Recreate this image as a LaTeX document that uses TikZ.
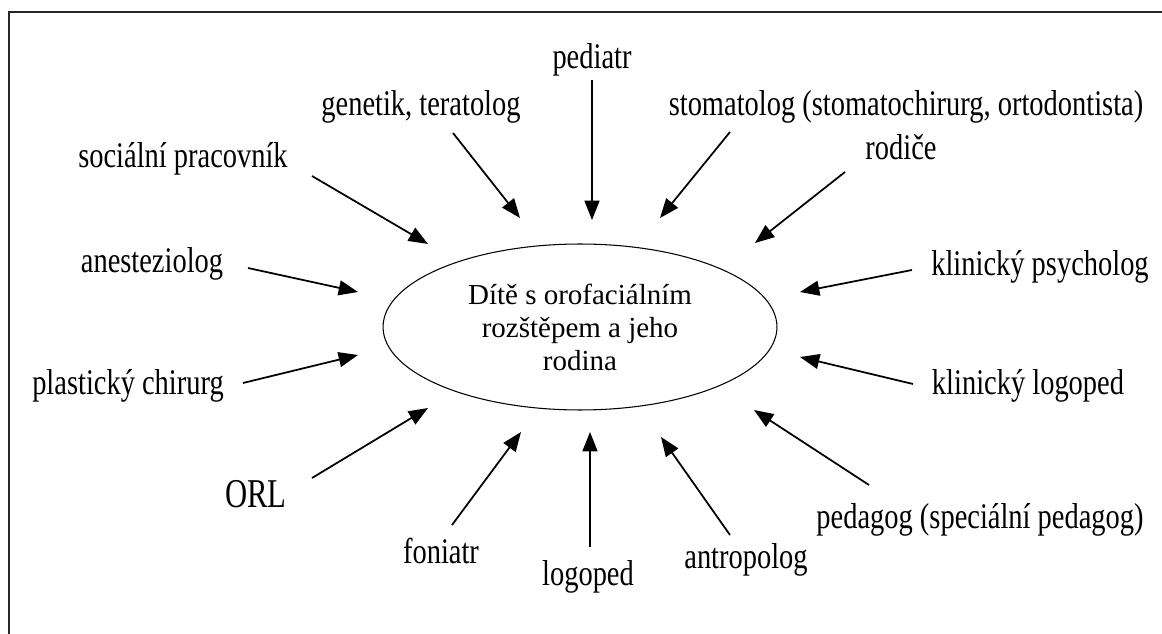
\documentclass[tikz,border=0pt]{standalone}
\usepackage{fontspec}
\setmainfont{Liberation Serif}
\newfontfamily\labfont{Liberation Serif}[FakeStretch=0.79]
\newfontfamily\orlfont{Liberation Serif}[FakeStretch=0.75]
\usetikzlibrary{arrows.meta, shapes.geometric}

\begin{document}
\begin{tikzpicture}[x=0.02cm, y=-0.02cm,
  lab/.style={anchor=base, inner sep=0pt, font=\labfont\fontsize{20.5}{22}\selectfont},
  arr/.style={-{Triangle[length=11pt, width=8.5pt]}, line width=1pt},
  middle/.style={ellipse, draw, line width=0.6pt, minimum width=7.88cm, minimum height=3.32cm,
    align=center, font=\fontsize{16.5}{18.8}\selectfont}]
\useasboundingbox (0,0) rectangle (1162,634);

% frame (only top and left edge show)
\coordinate (fbl) at (9,634);
\coordinate (ftl) at (9,12);
\coordinate (ftr) at (1162,12);
\draw [line width=1pt, black!85] (fbl) -- (ftl) -- (ftr);

\node (child) [middle] at (580,327) {Dítě s orofaciálním\\rozštěpem a jeho\\rodina};

% labels
\node (pediatr) [lab] at (592,69)   {pediatr};
\node (genetik) [lab] at (421,116)  {genetik, teratolog};
\node (stomat)  [lab] at (906,116)  {stomatolog (stomatochirurg, ortodontista)};
\node (rodice)  [lab] at (901,160)  {rodiče};
\node (social)  [lab] at (183,168)  {sociální pracovník};
\node (anest)   [lab] at (152,273)  {anesteziolog};
\node (psych)   [lab] at (1040,276) {klinický psycholog};
\node (plast)   [lab] at (128,395)  {plastický chirurg};
\node (klog)    [lab] at (1028,395) {klinický logoped};
\node (orl) [anchor=base, inner sep=0pt, font=\orlfont\fontsize{23.3}{25}\selectfont] at (256,507) {ORL};
\node (foniatr) [lab] at (441,563)  {foniatr};
\node (logoped) [lab] at (588,585)  {logoped};
\node (antrop)  [lab] at (746,568)  {antropolog};
\node (pedag)   [lab] at (980,528)  {pedagog (speciální pedagog)};

% arrows towards the child
\foreach \n/\sx/\sy/\tx/\ty in {ped/592/80/592/220, gen/453/133/520/218, sto/730/132/660/218,
  rod/845/172/755/243, soc/312/176/428/244, ane/248/268/358/292, psy/912/270/800/292,
  pla/243/383/358/355, log/913/384/800/357, orl/312/478/428/408, fon/452/525/521/432,
  lgp/590/547/590/432, ant/730/535/661/437, pdg/869/485/754/410}
{
\coordinate (s\n) at (\sx,\sy);
\coordinate (t\n) at (\tx,\ty);
\draw [arr] (s\n) -- (t\n);
}
\end{tikzpicture}
\end{document}
